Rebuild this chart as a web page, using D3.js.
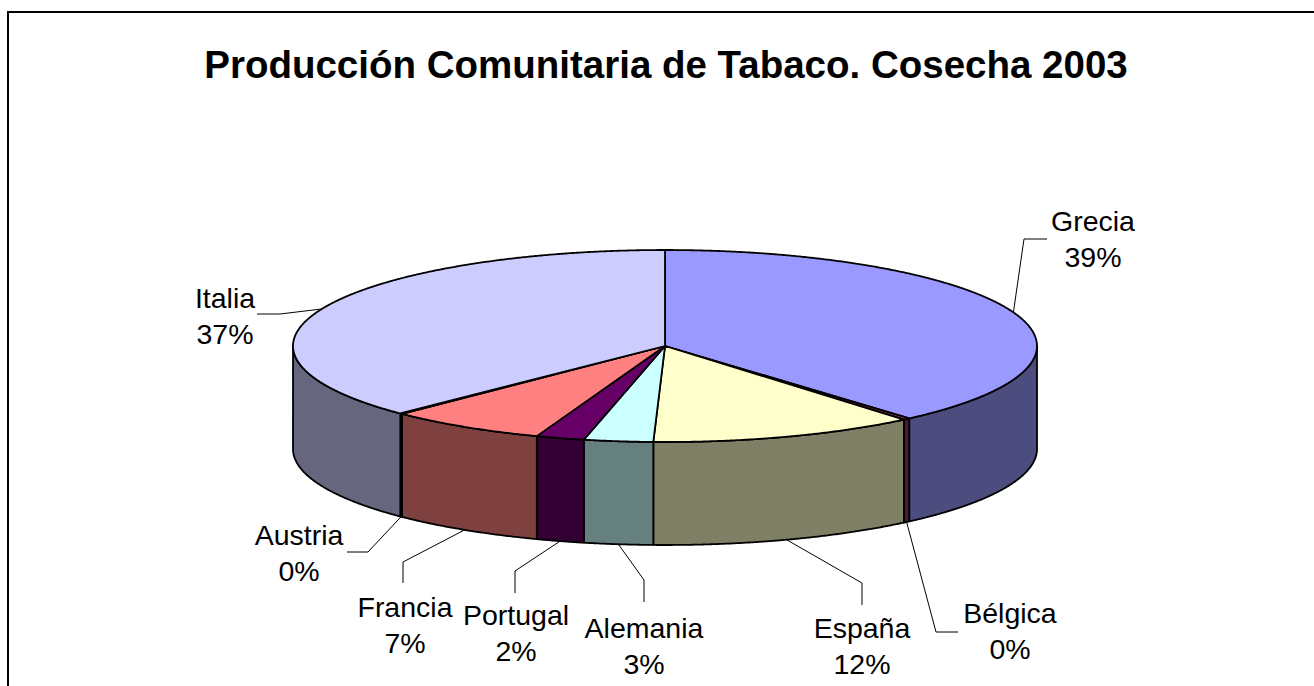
<!DOCTYPE html>
<html>
<head>
<meta charset="utf-8">
<script src="https://cdn.jsdelivr.net/npm/d3@7"></script>
<style>
  html, body { margin: 0; padding: 0; background: #fff; }
  svg { display: block; }
  text { font-family: "Liberation Sans", Arial, sans-serif; fill: #000; }
</style>
</head>
<body>
<svg id="chart" width="1314" height="686"></svg>
<script>
// ---- data ----
const title = "Producción Comunitaria de Tabaco. Cosecha 2003";
const categories = ["Grecia", "Bélgica", "España", "Alemania", "Portugal", "Francia", "Austria", "Italia"];
const values = [38.6, 0.3, 11.6, 3.0, 2.1, 6.9, 0.1, 37.4];

// ---- styles ----
const topColors  = ["#9999FF", "#993366", "#FFFFCC", "#CCFFFF", "#660066", "#FF8080", "#0066CC", "#CCCCFF"];
const sideColors = ["#4C4C7F", "#4C1933", "#7F7F66", "#667F7F", "#330033", "#7F4040", "#003366", "#66667F"];

// ---- layout ----
const W = 1314, H = 686;
const cx = 665, cy = 346, rx = 372, ry = 96, depth = 103;
const labelFont = 28.5, lineGap = 36;
// label layout: text centre x, first baseline y, leader elbow and end
const labelLayout = {
  "Grecia":   { x: 1093, y: 231, elbow: [1024, 239], end: [1047, 239] },
  "Bélgica":  { x: 1010, y: 623, elbow: [936, 632],  end: [958, 632] },
  "España":   { x: 862,  y: 638, elbow: [862, 583],  end: [862, 605] },
  "Alemania": { x: 644,  y: 638, elbow: [644, 580],  end: [644, 602] },
  "Portugal": { x: 516,  y: 625, elbow: [515, 571],  end: [515, 593] },
  "Francia":  { x: 405,  y: 617, elbow: [403, 562],  end: [403, 583] },
  "Austria":  { x: 299,  y: 545, elbow: [368, 552],  end: [347, 552] },
  "Italia":   { x: 225,  y: 308, elbow: [280, 314],  end: [257, 314] }
};

const svg = d3.select("#chart");

// border
svg.append("rect")
  .attr("x", 8).attr("y", 12)
  .attr("width", W + 20).attr("height", H + 20)
  .attr("fill", "#fff").attr("stroke", "#000").attr("stroke-width", 2);

// title
svg.append("text")
  .attr("x", 666).attr("y", 78)
  .attr("text-anchor", "middle")
  .attr("font-size", 38.5).attr("font-weight", "bold")
  .text(title);

const data = categories.map((c, i) => ({ name: c, value: values[i], i }));
const pie = d3.pie().value(d => d.value).sort(null);
const arcs = pie(data);

const px = a => cx + rx * Math.sin(a);
const py = (a, dz = 0) => cy - ry * Math.cos(a) + dz;
const line = d3.line();
function sample(a0, a1, dz) {
  const n = Math.max(2, Math.ceil(Math.abs(a1 - a0) / 0.005));
  return d3.range(n + 1).map(k => {
    const a = a0 + (a1 - a0) * k / n;
    return [px(a), py(a, dz)];
  });
}

// sides (front half only)
const sides = svg.append("g");
arcs.forEach(d => {
  const s = Math.max(d.startAngle, Math.PI / 2);
  const e = Math.min(d.endAngle, 3 * Math.PI / 2);
  if (s >= e) return;
  const pts = sample(s, e, 0).concat(sample(e, s, depth));
  sides.append("path")
    .attr("d", line(pts) + "Z")
    .attr("fill", sideColors[d.data.i])
    .attr("stroke", "#000").attr("stroke-width", 1.8)
    .attr("stroke-linejoin", "round");
});

// tops
const tops = svg.append("g");
arcs.forEach(d => {
  const pts = [[cx, cy]].concat(sample(d.startAngle, d.endAngle, 0));
  tops.append("path")
    .attr("d", line(pts) + "Z")
    .attr("fill", topColors[d.data.i])
    .attr("stroke", "#000").attr("stroke-width", 1.8)
    .attr("stroke-linejoin", "round");
});

// labels + leaders
const fmt = d3.format(".0%");
const total = d3.sum(values);
const lab = svg.append("g");
arcs.forEach(d => {
  const L = labelLayout[d.data.name];
  const mid = (d.startAngle + d.endAngle) / 2;
  const front = Math.cos(mid) < 0;
  const anchor = [px(mid), py(mid, front ? depth : 0)];
  lab.append("path")
    .attr("d", line([anchor, L.elbow, L.end]))
    .attr("fill", "none").attr("stroke", "#000").attr("stroke-width", 1);
  const t = lab.append("text")
    .attr("text-anchor", "middle")
    .attr("font-size", labelFont);
  t.append("tspan").attr("x", L.x).attr("y", L.y).text(d.data.name);
  t.append("tspan").attr("x", L.x).attr("y", L.y + lineGap).text(fmt(d.data.value / total));
});
</script>
</body>
</html>
